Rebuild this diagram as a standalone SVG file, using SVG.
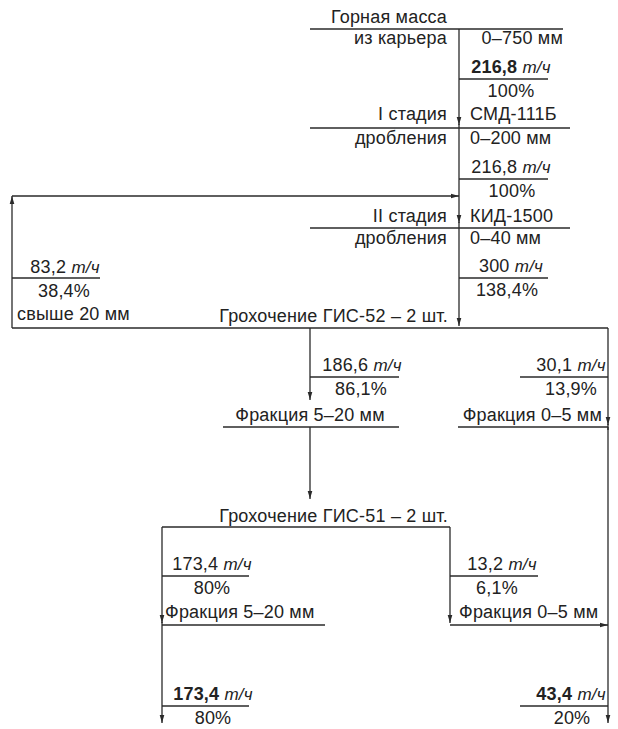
<svg xmlns="http://www.w3.org/2000/svg" width="618" height="729" viewBox="0 0 618 729">
<defs>
<marker id="ah" viewBox="0 0 8 6" refX="8" refY="3" markerWidth="8" markerHeight="6" markerUnits="userSpaceOnUse" orient="auto">
<path d="M0,0.7 L8,3 L0,5.3 z" fill="#2a2a2a"/>
</marker>
<style>
text{font-family:"Liberation Sans",Arial,sans-serif;font-size:18px;fill:#222;letter-spacing:0.2px}
.m{text-anchor:middle}
.e{text-anchor:end}
.b{font-weight:bold}
.u{font-style:italic;font-size:17px}
.ln{stroke:#2a2a2a;stroke-width:1.3;fill:none}
.ar{stroke:#2a2a2a;stroke-width:1.3;fill:none;marker-end:url(#ah)}
</style>
</defs>
<rect width="618" height="729" fill="#fff"/>
<g id="connectors">
<path class="ln" d="M310,29 H563"/>
<path class="ar" d="M459,29 V125"/>
<path class="ln" d="M459,124 V128"/>
<path class="ln" d="M310,128 H570"/>
<path class="ar" d="M459,128 V223"/>
<path class="ln" d="M459,222 V228"/>
<path class="ln" d="M310,228 H570"/>
<path class="ar" d="M459,228 V326"/>
<path class="ln" d="M459,79 H548"/>
<path class="ln" d="M459,179 H548"/>
<path class="ln" d="M459,278 H548"/>
<path class="ln" d="M12,328 H608"/>
<path class="ar" d="M12,328 V196"/>
<path class="ar" d="M12,196 H459"/>
<path class="ln" d="M12,278 H100"/>
<path class="ar" d="M310,328 V400"/>
<path class="ln" d="M310,377 H399"/>
<path class="ln" d="M223,427 H399"/>
<path class="ar" d="M310,427 V499"/>
<path class="ar" d="M608,328 V425"/>
<path class="ln" d="M608,424 V430"/>
<path class="ln" d="M520,377 H608"/>
<path class="ln" d="M458,427 H608"/>
<path class="ar" d="M608,427 V723"/>
<path class="ln" d="M162,527 H450"/>
<path class="ar" d="M162,527 V623"/>
<path class="ar" d="M162,622 V723"/>
<path class="ar" d="M450,527 V623"/>
<path class="ln" d="M162,576 H249"/>
<path class="ln" d="M162,625 H325"/>
<path class="ln" d="M450,576 H538"/>
<path class="ar" d="M450,625 H608"/>
<path class="ln" d="M162,706 H249"/>
<path class="ln" d="M520,706 H608"/>
</g>
<g id="source">
<text class="e" x="447" y="23">Горная масса</text>
<text class="e" x="447" y="44">из карьера</text>
<text class="e" x="563" y="44">0–750 мм</text>
<text class="m" x="511" y="73"><tspan class="b">216,8</tspan> <tspan class="u">т/ч</tspan></text>
<text class="m" x="511" y="97">100%</text>
</g>
<g id="stage1">
<text class="e" x="447" y="120">I стадия</text>
<text x="470" y="120">СМД-111Б</text>
<text class="e" x="447" y="144">дробления</text>
<text x="470" y="144">0–200 мм</text>
<text class="m" x="511" y="173">216,8 <tspan class="u">т/ч</tspan></text>
<text class="m" x="512" y="197">100%</text>
</g>
<g id="stage2">
<text class="e" x="447" y="222">II стадия</text>
<text x="470" y="222">КИД-1500</text>
<text class="e" x="447" y="244">дробления</text>
<text x="470" y="244">0–40 мм</text>
<text class="m" x="511" y="272">300 <tspan class="u">т/ч</tspan></text>
<text class="m" x="507" y="296">138,4%</text>
</g>
<g id="recycle">
<text class="m" x="65" y="273">83,2 <tspan class="u">т/ч</tspan></text>
<text class="m" x="64" y="297">38,4%</text>
<text x="17" y="320">свыше 20 мм</text>
</g>
<g id="screen52">
<text class="e" x="448" y="322">Грохочение ГИС-52 – 2 шт.</text>
</g>
<g id="fraction520a">
<text class="m" x="362" y="371">186,6 <tspan class="u">т/ч</tspan></text>
<text class="m" x="361" y="395">86,1%</text>
<text class="m" x="310" y="421">Фракция 5–20 мм</text>
</g>
<g id="fraction05a">
<text class="m" x="571" y="371">30,1 <tspan class="u">т/ч</tspan></text>
<text class="m" x="571" y="395">13,9%</text>
<text class="e" x="602" y="421">Фракция 0–5 мм</text>
</g>
<g id="screen51">
<text class="e" x="448" y="522">Грохочение ГИС-51 – 2 шт.</text>
</g>
<g id="fraction520b">
<text class="m" x="212" y="570">173,4 <tspan class="u">т/ч</tspan></text>
<text class="m" x="212" y="594">80%</text>
<text x="165" y="618">Фракция 5–20 мм</text>
</g>
<g id="fraction05b">
<text class="m" x="502" y="570">13,2 <tspan class="u">т/ч</tspan></text>
<text class="m" x="497" y="594">6,1%</text>
<text x="459" y="618">Фракция 0–5 мм</text>
</g>
<g id="product520">
<text class="m" x="213" y="700"><tspan class="b">173,4</tspan> <tspan class="u">т/ч</tspan></text>
<text class="m" x="213" y="724">80%</text>
</g>
<g id="product05">
<text class="m" x="571" y="700"><tspan class="b">43,4</tspan> <tspan class="u">т/ч</tspan></text>
<text class="m" x="572" y="724">20%</text>
</g>
</svg>
